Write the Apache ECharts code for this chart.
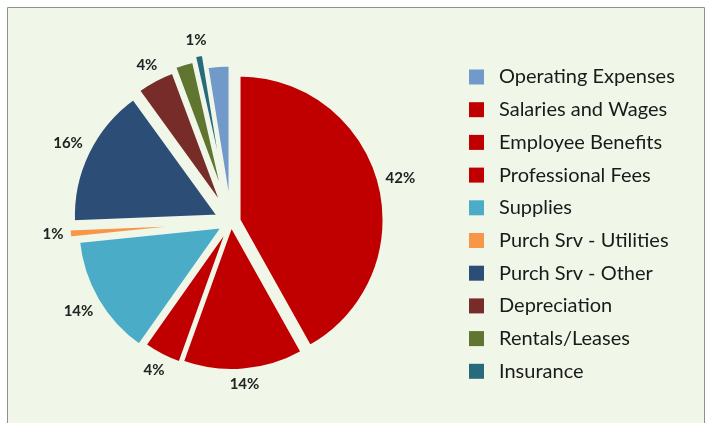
<!DOCTYPE html>
<html>
<head>
<meta charset="utf-8">
<script src="https://cdn.jsdelivr.net/npm/echarts@6/dist/echarts.min.js"></script>
<style>
  html, body { margin: 0; padding: 0; background: #fff; }
  #main { width: 711px; height: 423px; }
</style>
</head>
<body>
<div id="main"></div>
<script>
  var categories = ['Operating Expenses', 'Salaries and Wages', 'Employee Benefits', 'Professional Fees',
    'Supplies', 'Purch Srv - Utilities', 'Purch Srv - Other', 'Depreciation', 'Rentals/Leases', 'Insurance']
  var values = [2.6, 42.8, 13.9, 4.4, 13.9, 1.0, 16.0, 4.4, 2.2, 1.0]
  var colors = ['#7199c9', '#c00000', '#c00000', '#c00000', '#4aacc6', '#f79646', '#2c4d75', '#772c2a', '#5f7530', '#276a7c']
  // slices that carry no percent label in the original
  var hideLabel = ['Operating Expenses', 'Rentals/Leases']
  // how far each slice is pulled out of the pie (px)
  var explode = [12, 8.3, 3.5, 5, 9.5, 17, 14, 16, 20, 25]

  var bg = '#f0f6e8'
  var cx = 231, cy = 222, R = 145
  var total = values.reduce(function (a, b) { return a + b }, 0)
  var opexDeg = values[0] / total * 360
  var startAngle = 90 + opexDeg

  // bisector of slice i, degrees clockwise from 12 o'clock
  var midAngle = function (i) {
    var cum = 0
    for (var j = 0; j < i; j++) cum += values[j]
    return (cum + values[i] / 2) / total * 360 - opexDeg
  }

  var chart = echarts.init(document.getElementById('main'))

  var series = categories.map(function (name, k) {
    var rad = midAngle(k) * Math.PI / 180
    var dx = Math.sin(rad)
    var dy = -Math.cos(rad)
    var ox = cx + dx * explode[k]
    var oy = cy + dy * explode[k]
    return {
      type: 'pie',
      name: name,
      center: [ox, oy],
      radius: R,
      startAngle: startAngle,
      clockwise: true,
      silent: true,
      avoidLabelOverlap: false,
      emphasis: { disabled: true },
      label: {
        position: 'outside',
        fontFamily: 'Lato',
        fontWeight: 'bold',
        fontSize: 15,
        color: '#222222',
        formatter: function (p) { return Math.round(p.percent) + '%' }
      },
      labelLine: { show: false },
      labelLayout: function (p) {
        if (p.dataIndex !== k) return {}
        var hw = p.labelRect.width / 2
        var hh = p.labelRect.height / 2
        var dist = R + 5.5 + Math.abs(dx) * hw + Math.abs(dy) * hh
        return { x: ox + dx * dist, y: oy + dy * dist, align: 'center', verticalAlign: 'middle' }
      },
      data: categories.map(function (n, i) {
        var own = i === k
        return {
          name: n,
          value: values[i],
          itemStyle: own
            ? { color: colors[i], borderColor: bg, borderWidth: 3 }
            : { color: 'rgba(0,0,0,0)', borderColor: 'rgba(0,0,0,0)', borderWidth: 0 },
          label: { show: own && hideLabel.indexOf(n) < 0 }
        }
      })
    }
  })

  var option = {
    backgroundColor: '#ffffff',
    animation: false,
    graphic: [{
      type: 'rect',
      shape: { x: 7.5, y: 7.5, width: 697, height: 430 },
      style: { fill: bg, stroke: '#8f8f8f', lineWidth: 1 },
      z: -10
    }],
    legend: {
      orient: 'vertical',
      left: 464,
      top: 62,
      icon: 'rect',
      itemWidth: 15,
      itemHeight: 15,
      itemGap: 12.7,
      selectedMode: false,
      itemStyle: { borderWidth: 0 },
      textStyle: { fontFamily: 'Lato', fontSize: 20, color: '#1a1a1a', lineHeight: 20, padding: [0, 0, 0, 10] },
      data: categories.map(function (n, i) {
        return { name: n, itemStyle: { color: colors[i] } }
      })
    },
    series: series
  }

  chart.setOption(option)
</script>
</body>
</html>
